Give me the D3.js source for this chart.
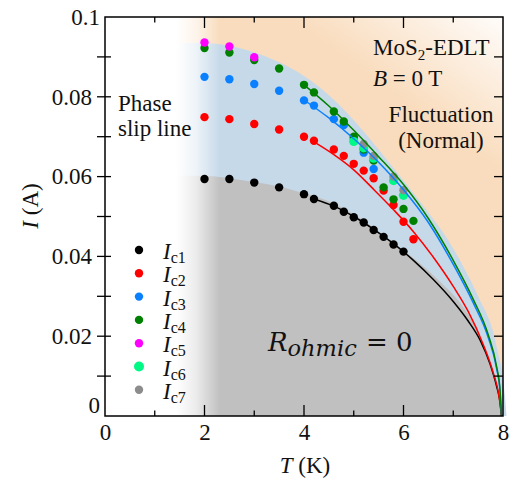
<!DOCTYPE html>
<html>
<head>
<meta charset="utf-8" />
<script src="https://d3js.org/d3.v7.min.js"></script>
<style>
  body { margin: 0; background: #fff; }
  text { font-family: "Liberation Serif", "Times New Roman", serif; fill: #111; }
</style>
</head>
<body>
<div id="chart"></div>
<script>
// critical currents I_c (A) vs T (K)
const ic1 = [[2.0,0.0594],[2.5,0.0594],[3.0,0.0585],[3.5,0.0573],[4.0,0.0556],[4.2,0.0544],[4.6,0.0527],[4.8,0.0512],[5.0,0.0498],[5.2,0.0485],[5.4,0.0466],[5.6,0.0449],[5.8,0.0430],[6.0,0.0412]];
const ic2 = [[2.0,0.0749],[2.5,0.0744],[3.0,0.0732],[3.5,0.0718],[4.0,0.0700],[4.2,0.0690],[4.6,0.0668],[4.8,0.0652],[5.0,0.0632],[5.2,0.0615],[5.4,0.0596],[5.6,0.0565],[5.8,0.0529],[6.0,0.0487],[6.2,0.0443]];
const ic3 = [[2.0,0.0850],[2.5,0.0844],[3.0,0.0832],[3.5,0.0815],[4.0,0.0791],[4.2,0.0778],[4.6,0.0744],[4.8,0.0729],[5.0,0.0695],[5.2,0.0660],[5.4,0.0619]];
const ic4 = [[2.0,0.0922],[2.5,0.0911],[3.0,0.0892],[3.5,0.0871],[4.0,0.0830],[4.2,0.0811],[4.6,0.0763],[4.8,0.0738],[5.0,0.0700],[5.2,0.0668],[5.4,0.0640],[5.6,0.0573],[5.8,0.0543],[6.0,0.0519],[6.2,0.0489]];
const ic5 = [[2.0,0.0936],[2.5,0.0926],[3.0,0.0899]];
const ic6 = [[5.0,0.0688],[5.2,0.0672],[5.4,0.0646],[5.8,0.0590],[6.0,0.0553]];
const ic7 = [[5.2,0.0682],[5.4,0.0652],[5.8,0.0600],[6.0,0.0566]];

// fit curves
const fit1 = [[4.2,0.0544],[4.6,0.0526],[5.0,0.0500],[5.4,0.0468],[5.8,0.0432],[6.2,0.0390],[6.6,0.0342],[7.0,0.0287],[7.3,0.0238],[7.54,0.0190],[7.74,0.0130],[7.87,0.0075],[7.94,0.0035],[7.97,0.0]];
const fit2 = [[4.2,0.0687],[4.6,0.0655],[5.0,0.0617],[5.4,0.0568],[5.8,0.0517],[6.2,0.0462],[6.6,0.0398],[7.0,0.0325],[7.3,0.0262],[7.6,0.0180],[7.8,0.0110],[7.92,0.0050],[7.97,0.0]];
const fit3 = [[4.0,0.0792],[4.5,0.0747],[5.0,0.0695],[5.5,0.0636],[6.0,0.0567],[6.5,0.0485],[7.0,0.0380],[7.4,0.0284],[7.7,0.0198],[7.87,0.0120],[7.94,0.0062],[7.97,0.0]];
const fit4 = [[4.0,0.0830],[4.5,0.0777],[5.0,0.0716],[5.5,0.0650],[6.0,0.0580],[6.5,0.0495],[7.0,0.0390],[7.4,0.0293],[7.7,0.0205],[7.87,0.0125],[7.94,0.0065],[7.97,0.0]];

// shaded region edges
const slipEdge = [[0,0.0935],[2.0,0.0935],[2.7,0.0922],[3.4,0.0892],[3.9,0.0860],[4.3,0.0825],[4.9,0.0755],[5.5,0.0668],[6.0,0.0590],[6.5,0.0510],[6.9,0.0440],[7.2,0.0375],[7.5,0.0300],[7.87,0.0175],[8.04,0.0050],[8.07,0.0]];
const zeroEdge = [[0,0.0602],[2.0,0.0602],[2.7,0.0592],[3.5,0.0575],[4.0,0.0558],[4.58,0.0534],[5.2,0.0490],[5.73,0.0440],[6.33,0.0383],[6.73,0.0337],[7.14,0.0283],[7.54,0.0199],[7.81,0.0107],[7.94,0.0033],[7.98,0.0]];

const seriesNames = ["c1","c2","c3","c4","c5","c6","c7"];
const seriesColors = ["#000000","#ff0000","#0a80ff","#008000","#ff00ff","#00f984","#8c8c8c"];
const xTicks = [0,2,4,6,8];
const yTicks = [0.02,0.04,0.06,0.08];

const width = 513, height = 486;
const serif = "Liberation Serif";
const x = d3.scaleLinear().domain([0, 8]).range([105, 503]);
const y = d3.scaleLinear().domain([0, 0.1]).range([416, 17]);

const svg = d3.select("#chart").append("svg").attr("width", width).attr("height", height);
const defs = svg.append("defs");

const peach = defs.append("linearGradient").attr("id", "peach")
  .attr("gradientUnits", "userSpaceOnUse")
  .attr("x1", 300).attr("y1", 300).attr("x2", 510).attr("y2", 10);
peach.append("stop").attr("offset", 0).attr("stop-color", "#f9dcbd");
peach.append("stop").attr("offset", 0.62).attr("stop-color", "#f9dcbd");
peach.append("stop").attr("offset", 1).attr("stop-color", "#ffffff");

const fade = defs.append("linearGradient").attr("id", "fade")
  .attr("gradientUnits", "userSpaceOnUse")
  .attr("x1", 176).attr("y1", 0).attr("x2", 220).attr("y2", 0);
fade.append("stop").attr("offset", 0).attr("stop-color", "#fff").attr("stop-opacity", 1);
fade.append("stop").attr("offset", 0.45).attr("stop-color", "#fff").attr("stop-opacity", 0.7);
fade.append("stop").attr("offset", 1).attr("stop-color", "#fff").attr("stop-opacity", 0);

// backgrounds
svg.append("rect").attr("x", x(0)).attr("y", y(0.1))
  .attr("width", x(8) - x(0)).attr("height", y(0) - y(0.1))
  .attr("fill", "url(#peach)");

const area = d3.area().x(d => x(d[0])).y0(y(0)).y1(d => y(d[1])).curve(d3.curveMonotoneX);
svg.append("path").datum(slipEdge).attr("d", area).attr("fill", "#c6d9e9");
svg.append("path").datum(zeroEdge).attr("d", area).attr("fill", "#c0c0c0");

svg.append("rect").attr("x", x(0)).attr("y", y(0.1))
  .attr("width", 220 - x(0)).attr("height", y(0) - y(0.1))
  .attr("fill", "url(#fade)");

// data points
const allSeries = [ic1, ic2, ic3, ic4, ic5, ic6, ic7];
allSeries.forEach((s, i) => {
  svg.append("g").selectAll("circle").data(s).enter().append("circle")
    .attr("cx", d => x(d[0])).attr("cy", d => y(d[1]))
    .attr("r", i == 5 ? 4.6 : 4.2)
    .attr("fill", seriesColors[i]);
});

// fit lines
const line = d3.line().x(d => x(d[0])).y(d => y(d[1])).curve(d3.curveMonotoneX);
[fit1, fit2, fit3, fit4].forEach((f, i) => {
  svg.append("path").datum(f).attr("d", line)
    .attr("fill", "none").attr("stroke", seriesColors[i]).attr("stroke-width", 1.5);
});

// frame and ticks
svg.append("rect").attr("x", x(0)).attr("y", y(0.1))
  .attr("width", x(8) - x(0)).attr("height", y(0) - y(0.1))
  .attr("fill", "none").attr("stroke", "#000").attr("stroke-width", 1.5);

const tk = svg.append("g").attr("stroke", "#000").attr("stroke-width", 1.3);
d3.range(1, 8).forEach(t => {
  const len = t % 2 == 0 ? 11 : 5.5;
  tk.append("line").attr("x1", x(t)).attr("x2", x(t)).attr("y1", y(0)).attr("y2", y(0) - len);
  tk.append("line").attr("x1", x(t)).attr("x2", x(t)).attr("y1", y(0.1)).attr("y2", y(0.1) + len);
});
d3.range(1, 10).forEach(k => {
  const v = k / 100;
  tk.append("line").attr("x1", x(0) - 8).attr("x2", x(0) + 6).attr("y1", y(v)).attr("y2", y(v));
  tk.append("line").attr("x1", x(8)).attr("x2", x(8) - 9).attr("y1", y(v)).attr("y2", y(v));
});

// axis labels
const xAxis = svg.append("g").attr("transform", `translate(0,${y(0)})`)
  .call(d3.axisBottom(x).tickValues(xTicks).tickSize(0).tickPadding(8).tickFormat(d3.format("d")));
xAxis.select(".domain").remove();
xAxis.attr("font-family", serif).attr("font-size", 23);
xAxis.selectAll("text").style("font-family", serif).attr("fill", "#111");

const yAxis = svg.append("g").attr("transform", `translate(92,0)`)
  .call(d3.axisLeft(y).tickValues(yTicks).tickSize(0).tickPadding(0).tickFormat(d => d.toString()));
yAxis.select(".domain").remove();
yAxis.attr("font-family", serif).attr("font-size", 23);
yAxis.selectAll("text").style("font-family", serif).attr("fill", "#111");

svg.append("text").attr("x", 100).attr("y", y(0.1)).attr("dy", "0.33em")
  .attr("text-anchor", "end").attr("font-size", 23).text("0.1");
svg.append("text").attr("x", 100).attr("y", 413)
  .attr("text-anchor", "end").attr("font-size", 23).text("0");

const xt = svg.append("text").attr("x", 305).attr("y", 473).attr("text-anchor", "middle").attr("font-size", 23);
xt.append("tspan").attr("font-style", "italic").text("T");
xt.append("tspan").text(" (K)");

const yt = svg.append("text").attr("transform", "translate(38,206) rotate(-90)")
  .attr("text-anchor", "middle").attr("font-size", 23);
yt.append("tspan").attr("font-style", "italic").text("I");
yt.append("tspan").text(" (A)");

// legend
seriesNames.forEach((n, i) => {
  const cy = 250 + i * 23.3;
  svg.append("circle").attr("cx", 139).attr("cy", cy).attr("r", i == 5 ? 5 : 4.2).attr("fill", seriesColors[i]);
  const t = svg.append("text").attr("x", 163).attr("y", cy + 9).attr("font-size", 23);
  t.append("tspan").attr("font-style", "italic").text("I");
  t.append("tspan").attr("font-size", 16).attr("dy", 4).text(n);
});

// annotations
svg.append("text").attr("x", 118).attr("y", 111).attr("font-size", 23).text("Phase");
svg.append("text").attr("x", 118).attr("y", 136).attr("font-size", 23).text("slip line");

const mos = svg.append("text").attr("x", 373).attr("y", 55).attr("font-size", 23);
mos.append("tspan").text("MoS");
mos.append("tspan").attr("font-size", 15).attr("dy", 5).text("2");
mos.append("tspan").attr("dy", -5).text("-EDLT");

const bt = svg.append("text").attr("x", 373).attr("y", 86).attr("font-size", 23);
bt.append("tspan").attr("font-style", "italic").text("B");
bt.append("tspan").text(" = 0 T");

svg.append("text").attr("x", 441).attr("y", 122).attr("text-anchor", "middle").attr("font-size", 23).text("Fluctuation");
svg.append("text").attr("x", 441).attr("y", 148).attr("text-anchor", "middle").attr("font-size", 23).text("(Normal)");

const ro = svg.append("text").attr("x", 268).attr("y", 351)
  .style("font-family", "DejaVu Serif").attr("font-size", 26);
ro.append("tspan").attr("font-style", "italic").text("R");
ro.append("tspan").attr("font-style", "italic").attr("font-size", 22.5).attr("dy", 5).text("ohmic");
ro.append("tspan").attr("x", 366).attr("dy", -5).text("=");
ro.append("tspan").attr("x", 396).text("0");
</script>
</body>
</html>
